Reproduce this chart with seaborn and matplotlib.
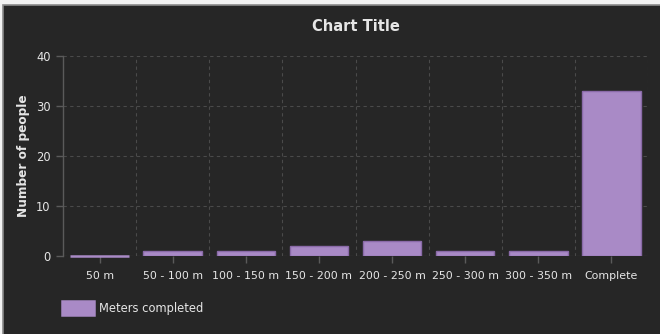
import matplotlib
matplotlib.use("Agg")
import matplotlib.pyplot as plt
from matplotlib.patches import Rectangle
import seaborn as sns
import pandas as pd

categories = ["50 m", "50 - 100 m", "100 - 150 m", "150 - 200 m",
              "200 - 250 m", "250 - 300 m", "300 - 350 m", "Complete"]
people = [0, 1, 1, 2, 3, 1, 1, 33]
series_name = "Meters completed"

y_ticks = [0, 10, 20, 30, 40]

BG = "#262626"
TEXT = "#e6e6e6"
GRID = "#4a4a4a"
BAR = "#a98ac6"
BAR_EDGE = "#8a6aa8"

sns.set_theme(style="dark")
plt.rcParams["font.family"] = ["DejaVu Sans"]

df = pd.DataFrame({"category": categories, "people": people, "series": series_name})

fig = plt.figure(figsize=(6.6, 3.34), dpi=100)
fig.patch.set_facecolor("#f2f2f2")
# dark panel with a thin grey outline, kept behind the axes
panel = Rectangle((3 / 660, -0.01), 1.0, 1 - 5 / 334 + 0.01,
                  transform=fig.transFigure, facecolor=BG,
                  edgecolor="#8a8a8a", linewidth=1.2, zorder=-10)
fig.add_artist(panel)

ax = fig.add_axes([63 / 660, 1 - 256 / 334, (648 - 63) / 660, 200 / 334])
ax.set_facecolor(BG)

sns.barplot(data=df, x="category", y="people", hue="series", ax=ax,
            palette=[BAR], width=0.8, edgecolor=BAR_EDGE, linewidth=1.0,
            saturation=1, zorder=3)

# empty categories still show a flat outline along the baseline
for bar in ax.patches:
    if bar.get_height() == 0:
        bar.set_edgecolor(BAR)
        bar.set_linewidth(1.8)
        bar.set_clip_on(False)

ax.set_ylim(0, 40)
ax.set_xlim(-0.5, len(categories) - 0.5)
ax.set_yticks(y_ticks)
ax.set_yticklabels([str(t) for t in y_ticks])

# dashed grid at tick positions plus category boundaries
for t in y_ticks[1:]:
    ax.axhline(t, color=GRID, linestyle=(0, (3, 3)), linewidth=0.8, zorder=1)
for b in range(1, len(categories) + 1):
    ax.axvline(b - 0.5, color=GRID, linestyle=(0, (3, 3)), linewidth=0.8, zorder=1)
ax.axhline(0, color="#666666", linestyle=(0, (3, 3)), linewidth=0.8, zorder=2)

for side in ["top", "right", "bottom"]:
    ax.spines[side].set_visible(False)
ax.spines["left"].set_color("#5a5a5a")
ax.spines["left"].set_linewidth(1.0)

ax.tick_params(axis="both", colors="#5a5a5a", labelcolor=TEXT, labelsize=8.3,
               length=5, width=1, direction="out", bottom=True, left=True)
ax.tick_params(axis="x", pad=6, labelsize=7.9)
ax.tick_params(axis="y", pad=4)
ax.set_xlabel("")
ax.set_ylabel("Number of people", color=TEXT, fontsize=8.7, fontweight="bold",
              labelpad=4)
ax.set_title("Chart Title", color=TEXT, fontsize=10.5, fontweight="bold",
             x=(356 - 63) / 585, pad=18)

leg = ax.legend(loc="lower left", bbox_to_anchor=(-0.01, -0.32),
                frameon=False, fontsize=8.3, handlelength=2.8, handleheight=1.6,
                handletextpad=0.4, borderaxespad=0)
for txt in leg.get_texts():
    txt.set_color(TEXT)

fig.savefig("out.png", dpi=100, facecolor=fig.get_facecolor())
